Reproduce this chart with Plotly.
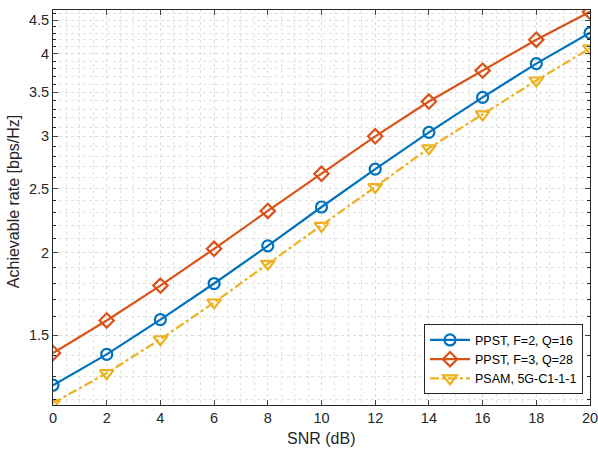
import plotly.graph_objects as go
import numpy as np

snr = [0, 2, 4, 6, 8, 10, 12, 14, 16, 18, 20]
ppst_f2 = [1.261, 1.404, 1.585, 1.797, 2.049, 2.346, 2.677, 3.043, 3.437, 3.866, 4.304]
ppst_f3 = [1.411, 1.580, 1.784, 2.028, 2.314, 2.634, 3.001, 3.388, 3.773, 4.202, 4.63]
psam = [1.185, 1.315, 1.480, 1.682, 1.925, 2.197, 2.515, 2.879, 3.239, 3.645, 4.077]

y_major = [1.5, 2, 2.5, 3, 3.5, 4, 4.5]
y_major_text = ["1.5", "2", "2.5", "3", "3.5", "4", "4.5"]
y_minor = [round(v, 1) for v in np.arange(1.2, 4.65, 0.1) if round(v, 1) not in y_major]
x_major = list(range(0, 21, 2))
x_minor = [v for v in np.arange(0, 20.01, 0.5) if v % 2 != 0]

fig = go.Figure()
fig.add_trace(go.Scatter(x=snr, y=ppst_f2, mode="lines+markers", name="PPST, F=2, Q=16",
                         line=dict(color="#0072BD", width=2.2),
                         marker=dict(symbol="circle-open", size=11, color="#0072BD", line=dict(width=2.2))))
fig.add_trace(go.Scatter(x=snr, y=ppst_f3, mode="lines+markers", name="PPST, F=3, Q=28",
                         line=dict(color="#D95319", width=2.2),
                         marker=dict(symbol="diamond-open", size=11, color="#D95319", line=dict(width=2.2))))
fig.add_trace(go.Scatter(x=snr, y=psam, mode="lines+markers", name="PSAM, 5G-C1-1-1",
                         line=dict(color="#EDB120", width=2.2, dash="dashdot"),
                         marker=dict(symbol="triangle-down-open", size=12, color="#EDB120", line=dict(width=2.2))))

font = "Liberation Sans, Arial, sans-serif"
fig.update_layout(
    width=598, height=455,
    margin=dict(l=53, r=8, t=10, b=50),
    paper_bgcolor="white", plot_bgcolor="white",
    font=dict(family=font, size=14.5, color="#262626"),
    legend=dict(x=0.987, y=0.027, xanchor="right", yanchor="bottom",
                bordercolor="#262626", borderwidth=1, bgcolor="white",
                font=dict(size=12.5, color="#000000"), tracegroupgap=0,
                itemwidth=40),
    xaxis=dict(range=[0, 20], tickvals=x_major, ticks="inside", ticklen=5,
               mirror="allticks", showline=True, linecolor="#262626", linewidth=1,
               showgrid=True, gridcolor="#dcdcdc", griddash="dot", gridwidth=1,
               zeroline=False, automargin=False, ticklabeloverflow="allow",
               minor=dict(tickvals=x_minor, showgrid=True, gridcolor="#e2e2e2",
                          griddash="dot", ticks="")),
    yaxis=dict(type="log", range=[np.log10(1.177), np.log10(4.66)],
               tickvals=y_major, ticktext=y_major_text, ticks="inside", ticklen=5,
               mirror="allticks", showline=True, linecolor="#262626", linewidth=1,
               showgrid=True, gridcolor="#dcdcdc", griddash="dot", gridwidth=1,
               zeroline=False, automargin=False, ticklabeloverflow="allow",
               minor=dict(tickvals=y_minor, showgrid=True, gridcolor="#e2e2e2",
                          griddash="dot", ticks="inside", ticklen=3, tickcolor="#262626")),
    annotations=[
        dict(text="SNR (dB)", xref="paper", yref="paper", x=0.499, y=-0.086,
             xanchor="center", yanchor="middle", showarrow=False,
             font=dict(size=16, color="#262626")),
        dict(text="Achievable rate [bps/Hz]", xref="paper", yref="paper", x=-0.0745, y=0.516,
             xanchor="center", yanchor="middle", showarrow=False, textangle=-90,
             font=dict(size=16, color="#262626")),
    ],
)

fig.write_html("out.html", config={"displayModeBar": False},
               post_script="document.body.style.margin='0';")
